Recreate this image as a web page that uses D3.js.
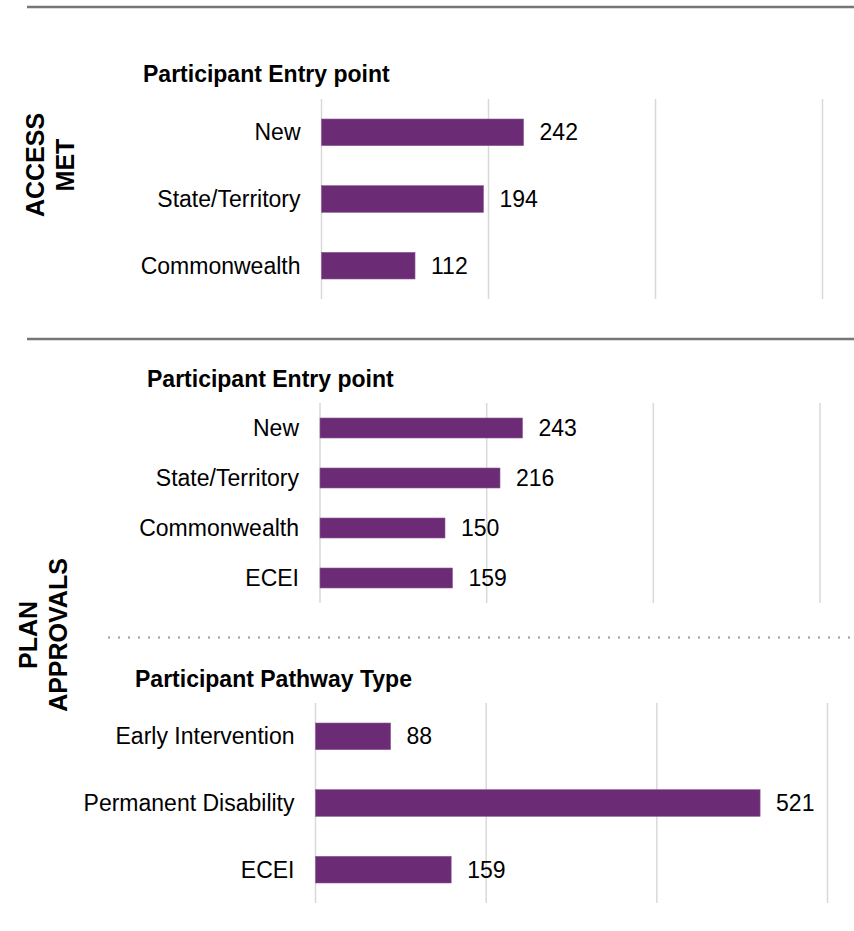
<!DOCTYPE html>
<html>
<head>
<meta charset="utf-8">
<script src="https://cdn.jsdelivr.net/npm/d3@7"></script>
<style>
  body { margin: 0; background: #fff; }
  svg text { font-family: "Liberation Sans", Arial, sans-serif; fill: #000; }
</style>
</head>
<body>
<div id="chart"></div>
<script>
// values
const accessCategories = ["New", "State/Territory", "Commonwealth"];
const accessValues = [242, 194, 112];

const entryCategories = ["New", "State/Territory", "Commonwealth", "ECEI"];
const entryValues = [243, 216, 150, 159];

const pathwayCategories = ["Early Intervention", "Permanent Disability", "ECEI"];
const pathwayValues = [88, 521, 159];

const xTicks = [0, 200, 400, 600];

const width = 854, height = 931;
const barColor = "#6b2c75";
const gridColor = "#d9d9d9";

const svg = d3.select("#chart").append("svg")
    .attr("width", width)
    .attr("height", height);

function drawPanel(opts){
    const g = svg.append("g");
    const x = d3.scaleLinear().domain([0, 600]).range([opts.x0, opts.x1]);
    const y = d3.scaleBand().domain(opts.categories)
        .range([opts.top, opts.bottom])
        .paddingInner(0.6)
        .paddingOuter(0.3);

    // gridlines
    g.selectAll("line.grid")
        .data(xTicks)
        .join("line")
        .attr("class", "grid")
        .attr("x1", d => x(d)).attr("x2", d => x(d))
        .attr("y1", opts.top).attr("y2", opts.bottom)
        .attr("stroke", gridColor)
        .attr("stroke-width", 1.5);

    const rows = opts.categories.map((c, i) => ({cat: c, val: opts.values[i]}));

    g.selectAll("rect.bar")
        .data(rows)
        .join("rect")
        .attr("class", "bar")
        .attr("x", x(0))
        .attr("y", d => y(d.cat))
        .attr("width", d => x(d.val) - x(0))
        .attr("height", y.bandwidth())
        .attr("fill", barColor)
        .attr("stroke", "#8d5a96")
        .attr("stroke-width", 0.6);

    // value labels
    g.selectAll("text.val")
        .data(rows)
        .join("text")
        .attr("class", "val")
        .attr("x", d => x(d.val) + 16)
        .attr("y", d => y(d.cat) + y.bandwidth() / 2)
        .attr("dy", "0.35em")
        .style("font-size", "23px")
        .text(d => d.val);

    // category labels
    g.selectAll("text.cat")
        .data(rows)
        .join("text")
        .attr("class", "cat")
        .attr("x", x(0) - 21)
        .attr("y", d => y(d.cat) + y.bandwidth() / 2)
        .attr("dy", "0.35em")
        .attr("text-anchor", "end")
        .style("font-size", "23px")
        .text(d => d.cat);

    g.append("text")
        .attr("x", opts.titleX)
        .attr("y", opts.titleY)
        .style("font-size", "23px")
        .style("font-weight", "bold")
        .text(opts.title);
}

drawPanel({
    categories: accessCategories, values: accessValues,
    x0: 321.5, x1: 822.5, top: 99, bottom: 299,
    title: "Participant Entry point", titleX: 143, titleY: 82
});

drawPanel({
    categories: entryCategories, values: entryValues,
    x0: 320, x1: 820, top: 403, bottom: 603,
    title: "Participant Entry point", titleX: 147, titleY: 387
});

drawPanel({
    categories: pathwayCategories, values: pathwayValues,
    x0: 315.5, x1: 827.5, top: 703, bottom: 903,
    title: "Participant Pathway Type", titleX: 135, titleY: 687
});

// separators
svg.append("line")
    .attr("x1", 27).attr("x2", width)
    .attr("y1", 7).attr("y2", 7)
    .attr("stroke", "#767676").attr("stroke-width", 2.5);

svg.append("line")
    .attr("x1", 27).attr("x2", width)
    .attr("y1", 339).attr("y2", 339)
    .attr("stroke", "#767676").attr("stroke-width", 2.5);

svg.append("line")
    .attr("x1", 108).attr("x2", width)
    .attr("y1", 637.5).attr("y2", 637.5)
    .attr("stroke", "#9a9a9a").attr("stroke-width", 2)
    .attr("stroke-dasharray", "2,8");

// rotated section labels
function sideLabel(lines, cy){
    lines.forEach(l => {
        svg.append("text")
            .attr("transform", `translate(${l.x},${cy}) rotate(-90)`)
            .attr("text-anchor", "middle")
            .style("font-size", "25px")
            .style("font-weight", "bold")
            .text(l.t);
    });
}
sideLabel([{t: "ACCESS", x: 44}, {t: "MET", x: 74}], 165);
sideLabel([{t: "PLAN", x: 37}, {t: "APPROVALS", x: 67}], 635);
</script>
</body>
</html>
